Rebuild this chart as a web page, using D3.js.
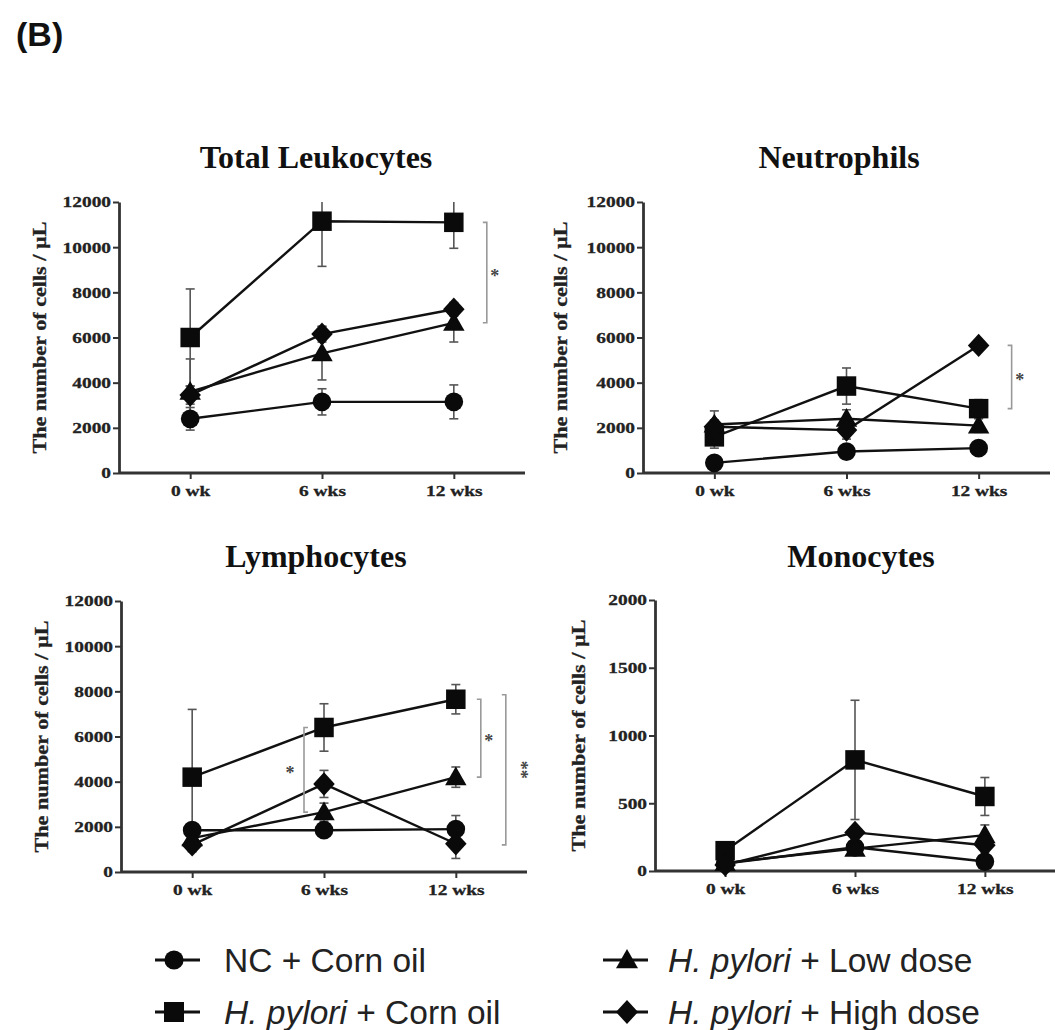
<!DOCTYPE html>
<html>
<head>
<meta charset="utf-8">
<script src="https://cdn.jsdelivr.net/npm/d3@7"></script>
<style>
  html, body { margin: 0; padding: 0; background: #fff; }
  svg { display: block; }
</style>
</head>
<body>
<svg id="chart" width="1055" height="1030"></svg>
<script>
// ---------------- DATA ----------------
const timepoints = ["0 wk", "6 wks", "12 wks"];
const groups = ["NC + Corn oil", "H. pylori + Corn oil", "H. pylori + Low dose", "H. pylori + High dose"];
const panelTitles = ["Total Leukocytes", "Neutrophils", "Lymphocytes", "Monocytes"];
const yLabel = "The number of cells / µL";

const cellTicks = [0, 2000, 4000, 6000, 8000, 10000, 12000];
const monoTicks = [0, 500, 1000, 1500, 2000];

// rows: NC, HP corn oil, HP low dose, HP high dose ; columns: 0, 6, 12 wks
const leukMean = [[2400, 3150, 3150], [6000, 11150, 11100], [3600, 5300, 6650], [3450, 6150, 7250]];
const leukErr  = [[500, 580, 750],   [2150, 2000, 1150],   [1450, 1180, 850],  [400, 350, 300]];

const neutMean = [[450, 950, 1100],  [1600, 3850, 2850],   [2150, 2400, 2100], [2050, 1900, 5650]];
const neutErr  = [[150, 250, 200],   [500, 800, 400],      [600, 400, 300],    [300, 400, 200]];

const lymphMean = [[1850, 1850, 1900], [4200, 6400, 7650], [1500, 2650, 4200], [1200, 3900, 1250]];
const lymphErr  = [[300, 300, 600],    [3000, 1050, 650],  [300, 400, 450],    [300, 600, 650]];

const monoMean = [[55, 175, 70],   [150, 820, 550], [60, 165, 265], [45, 285, 190]];
const monoErr  = [[15, 30, 20],    [50, 440, 140],  [20, 40, 75],   [15, 40, 50]];

// significance brackets: [panel index, time index, from value, to value, label, side]
const brackets = [
  [0, 2, 11100, 6650, "*", "right"],
  [1, 2, 5650, 2850, "*", "right"],
  [2, 1, 6400, 2650, "*", "left"],
  [2, 2, 7650, 4200, "*", "right"],
  [2, 2, 7850, 1200, "**", "right2"]
];

// ---------------- LAYOUT ----------------
const svg = d3.select("#chart");
const serif = "'Liberation Serif', 'Times New Roman', serif";
const sans = "'Liberation Sans', Arial, sans-serif";
const shapes = ["circle", "square", "triangle", "diamond"];

const panels = [
  { mean: leukMean,  err: leukErr,  ticks: cellTicks, ax: 119, xEnd: 525,  yTop: 202, yBot: 473, titleX: 316, titleY: 168, labX: 46 },
  { mean: neutMean,  err: neutErr,  ticks: cellTicks, ax: 643, xEnd: 1050, yTop: 202, yBot: 473, titleX: 839, titleY: 168, labX: 567 },
  { mean: lymphMean, err: lymphErr, ticks: cellTicks, ax: 121, xEnd: 527,  yTop: 601, yBot: 872, titleX: 316, titleY: 567, labX: 48 },
  { mean: monoMean,  err: monoErr,  ticks: monoTicks, ax: 655, xEnd: 1055, yTop: 600, yBot: 871, titleX: 861, titleY: 567, labX: 585 }
];

function shapePath(type, cx, cy, s) {
  if (type === "circle") {
    const r = s * 0.48;
    return `M${cx - r},${cy}a${r},${r} 0 1,0 ${2 * r},0a${r},${r} 0 1,0 ${-2 * r},0Z`;
  }
  if (type === "square") {
    const h = s * 0.5;
    return `M${cx - h},${cy - h}H${cx + h}V${cy + h}H${cx - h}Z`;
  }
  if (type === "triangle") {
    const h = s * 0.55;
    return `M${cx},${cy - h * 1.0}L${cx + h},${cy + h * 0.75}L${cx - h},${cy + h * 0.75}Z`;
  }
  const h = s * 0.6;
  return `M${cx},${cy - h}L${cx + h * 0.92},${cy}L${cx},${cy + h}L${cx - h * 0.92},${cy}Z`;
}

function stretchText(sel, k) {
  sel.each(function () {
    const w = this.getComputedTextLength();
    d3.select(this).attr("textLength", w * k).attr("lengthAdjust", "spacingAndGlyphs");
  });
}

// "(B)"
svg.append("text").attr("x", 16).attr("y", 46)
  .attr("font-family", sans).attr("font-weight", "bold").attr("font-size", 34)
  .attr("fill", "#111").text("(B)");

panels.forEach((p, pi) => {
  const yMax = p.ticks[p.ticks.length - 1];
  const x = d3.scalePoint().domain(timepoints).range([p.ax, p.xEnd]).padding(0.54);
  const y = d3.scaleLinear().domain([0, yMax]).range([p.yBot, p.yTop]);
  const g = svg.append("g");

  // title
  g.append("text").attr("x", p.titleX).attr("y", p.titleY)
    .attr("text-anchor", "middle").attr("font-family", serif)
    .attr("font-weight", "bold").attr("font-size", 32).attr("fill", "#111")
    .text(panelTitles[pi]);

  // y label
  g.append("text")
    .attr("transform", `translate(${p.labX},${(p.yTop + p.yBot) / 2}) rotate(-90)`)
    .attr("text-anchor", "middle").attr("font-family", serif)
    .attr("font-weight", "bold").attr("font-size", 18.5).attr("fill", "#222")
    .attr("stroke", "#222").attr("stroke-width", 0.3)
    .attr("textLength", 232).attr("lengthAdjust", "spacingAndGlyphs")
    .text(yLabel);

  // axes
  const yAxis = g.append("g").attr("transform", `translate(${p.ax},0)`)
    .call(d3.axisLeft(y).tickValues(p.ticks).tickSize(6).tickSizeOuter(0).tickPadding(2).tickFormat(d3.format("d")));
  const xAxis = g.append("g").attr("transform", `translate(0,${p.yBot})`)
    .call(d3.axisBottom(x).tickSize(6).tickSizeOuter(0).tickPadding(6));
  xAxis.select(".domain").attr("d", `M${p.ax},0H${p.xEnd}`);
  [yAxis, xAxis].forEach(a => {
    a.select(".domain").attr("stroke", "#333").attr("stroke-width", 2.8);
    a.selectAll(".tick line").attr("stroke", "#333").attr("stroke-width", 2);
    a.selectAll(".tick text").attr("font-family", serif).attr("font-weight", "bold")
      .attr("font-size", 15.5).attr("fill", "#222").attr("stroke", "#222").attr("stroke-width", 0.3);
  });
  stretchText(yAxis.selectAll(".tick text"), 1.25);
  stretchText(xAxis.selectAll(".tick text"), 1.25);

  // error bars
  const eg = g.append("g");
  p.mean.forEach((row, si) => {
    row.forEach((v, ti) => {
      const e = p.err[si][ti];
      const cx = x(timepoints[ti]);
      const lo = Math.max(0, v - e), hi = Math.min(yMax, v + e);
      eg.append("line").attr("x1", cx).attr("x2", cx).attr("y1", y(lo)).attr("y2", y(hi))
        .attr("stroke", "#555").attr("stroke-width", 1.6);
      [lo, hi].forEach(b => {
        if ((b === hi && v + e > yMax) || (b === lo && v - e < 0)) return;
        eg.append("line").attr("x1", cx - 4.5).attr("x2", cx + 4.5).attr("y1", y(b)).attr("y2", y(b))
          .attr("stroke", "#555").attr("stroke-width", 1.6);
      });
    });
  });

  // lines
  const line = d3.line().x((d, i) => x(timepoints[i])).y(d => y(d));
  p.mean.forEach(row => {
    g.append("path").attr("d", line(row)).attr("fill", "none")
      .attr("stroke", "#111").attr("stroke-width", 2.4);
  });

  // markers
  p.mean.forEach((row, si) => {
    row.forEach((v, ti) => {
      g.append("path").attr("d", shapePath(shapes[si], x(timepoints[ti]), y(v), 19.5))
        .attr("fill", "#0a0a0a");
    });
  });

  // brackets
  brackets.filter(b => b[0] === pi).forEach(b => {
    const [, ti, v1, v2, label, side] = b;
    const cx = x(timepoints[ti]);
    let bx, dir, sx;
    if (side === "right") { bx = cx + (pi === 2 ? 25 : 33); dir = -4; sx = bx + 8; }
    else if (side === "right2") { bx = cx + 50; dir = -4; sx = bx + 13; }
    else { bx = cx - 20; dir = 4; sx = bx - 14; }
    const y1 = y(v1), y2 = y(v2);
    g.append("path").attr("d", `M${bx + dir},${y1}H${bx}V${y2}H${bx + dir}`)
      .attr("fill", "none").attr("stroke", "#999").attr("stroke-width", 1.6);
    const ym = (y1 + y2) / 2;
    if (label === "**") {
      g.append("text").attr("transform", `translate(${sx - 4},${ym}) rotate(90)`)
        .attr("text-anchor", "middle").attr("font-family", serif).attr("font-weight", "bold")
        .attr("font-size", 18).attr("fill", "#444").text(label);
    } else {
      g.append("text").attr("x", sx).attr("y", ym + 9)
        .attr("text-anchor", "middle").attr("font-family", serif).attr("font-weight", "bold")
        .attr("font-size", 18).attr("fill", "#444").text(label);
    }
  });
});

// ---------------- LEGEND ----------------
const legendPos = [
  { lx: 155, mx: 174, tx: 224, y: 960 },
  { lx: 155, mx: 174, tx: 224, y: 1012 },
  { lx: 603, mx: 627, tx: 668, y: 960 },
  { lx: 603, mx: 627, tx: 668, y: 1012 }
];
groups.forEach((name, i) => {
  const lp = legendPos[i];
  const lg = svg.append("g");
  lg.append("line").attr("x1", lp.lx).attr("x2", lp.lx + 45).attr("y1", lp.y).attr("y2", lp.y)
    .attr("stroke", "#111").attr("stroke-width", 3);
  lg.append("path").attr("d", shapePath(shapes[i], lp.mx, lp.y, 20)).attr("fill", "#0a0a0a");
  const t = lg.append("text").attr("x", lp.tx).attr("y", lp.y + 12)
    .attr("font-family", sans).attr("font-size", 33.5).attr("fill", "#222");
  if (name.startsWith("H. pylori")) {
    t.append("tspan").attr("font-style", "italic").text("H. pylori");
    t.append("tspan").text(name.slice(9));
  } else {
    t.text(name);
  }
});
</script>
</body>
</html>
